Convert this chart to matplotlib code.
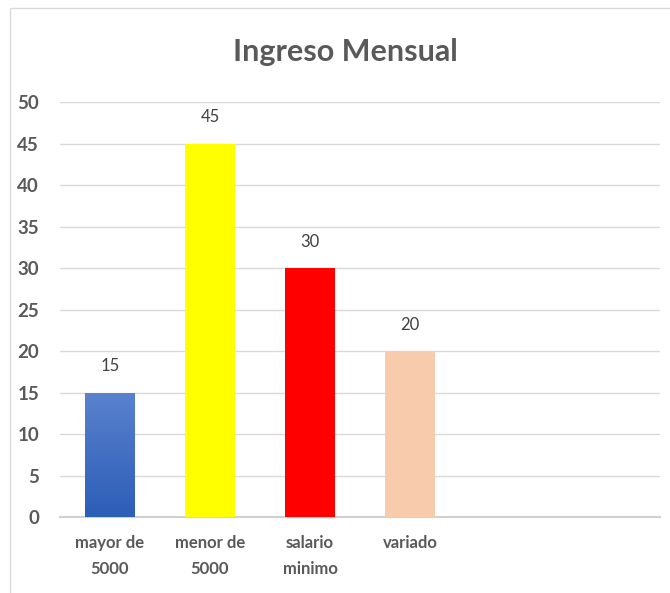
import matplotlib.pyplot as plt
import numpy as np
from matplotlib.patches import Rectangle

plt.rcParams['font.family'] = ['Lato', 'DejaVu Sans']

categorias = ["mayor de\n5000", "menor de\n5000", "salario\nminimo", "variado"]
valores = [15, 45, 30, 20]
colores = ["#3B6CC6", "#FFFF00", "#FF0000", "#F8CBAD"]
n_slots = 6

fig = plt.figure(figsize=(6.7, 5.93), dpi=100)
ax = fig.add_axes([0.0896, 0.128, 0.8954, 0.700])

x = np.arange(len(valores))
bars = ax.bar(x, valores, width=0.5, color=colores, zorder=3)

# degradado para la primera barra
b = bars[0]
grad = np.linspace(0, 1, 256).reshape(-1, 1)
cmap = plt.matplotlib.colors.LinearSegmentedColormap.from_list("azul", ["#2C5DB7", "#5A82CE"])
im = ax.imshow(grad, cmap=cmap, aspect="auto", origin="lower",
               extent=[b.get_x(), b.get_x() + b.get_width(), 0, b.get_height()], zorder=4)
im.set_clip_path(b)

for xi, v in zip(x, valores):
    ax.text(xi, v + 2.2, str(v), ha="center", va="bottom", fontsize=12, color="#404040")

ax.set_xlim(-0.5, n_slots - 0.5)
ax.set_ylim(0, 50)
ax.set_yticks(range(0, 51, 5))
ax.set_xticks(x)
ax.set_xticklabels(categorias, fontsize=12, fontweight="bold", color="#595959", linespacing=1.75)
for lab in ax.get_yticklabels():
    lab.set_fontsize(13.5)
    lab.set_fontweight("bold")
    lab.set_color("#595959")
ax.tick_params(axis="both", length=0)
ax.tick_params(axis="y", pad=15)
ax.tick_params(axis="x", pad=13)
ax.grid(axis="y", color="#D9D9D9", linewidth=1, zorder=0)
for s in ["top", "right", "left"]:
    ax.spines[s].set_visible(False)
ax.spines["bottom"].set_color("#D0D0D0")
ax.spines["bottom"].set_linewidth(1.5)

fig.text(0.515, 0.912, "Ingreso Mensual", ha="center", va="center", fontsize=22,
         color="#595959", fontweight="bold")

fig.patches.append(Rectangle((10 / 670, -0.05), 1.2, 1 - 8 / 593 + 0.05, transform=fig.transFigure,
                             fill=False, edgecolor="#D9D9D9", linewidth=1))

fig.savefig("out.png", dpi=100)
